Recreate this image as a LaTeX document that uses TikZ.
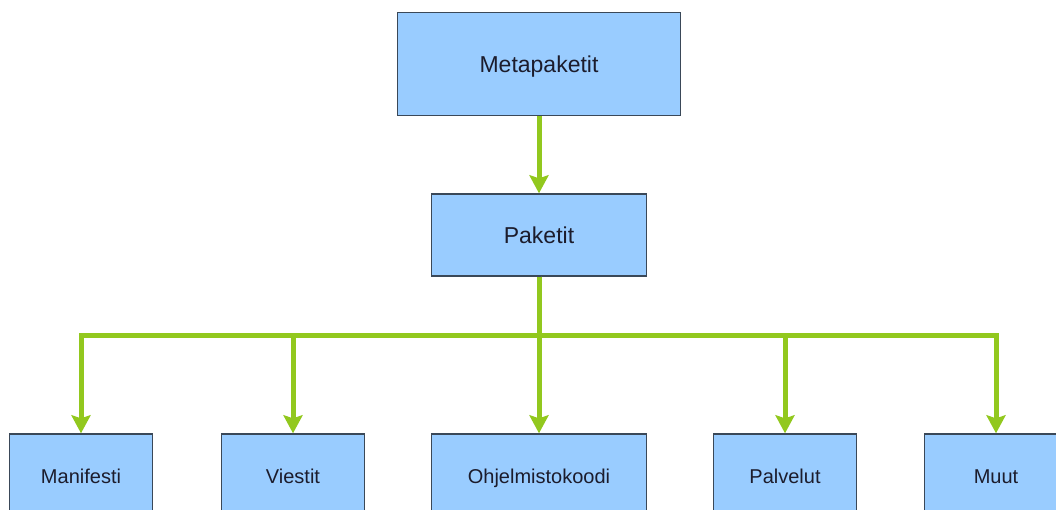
\documentclass[tikz,border=0pt]{standalone}
\usepackage{fontspec}
\setmainfont{Liberation Sans}
\usetikzlibrary{arrows.meta}
\definecolor{boxfill}{HTML}{99CCFF}
\definecolor{boxline}{HTML}{3A4858}
\definecolor{conn}{HTML}{92C81E}
\definecolor{txt}{HTML}{1C1C2C}
\tikzset{
  box/.style={draw=boxline, line width=1.4pt, fill=boxfill, inner sep=0pt, text=txt, anchor=center, text depth=0pt},
  bigbox/.style={box, text height=18pt, font=\fontsize{23}{27}\selectfont},
  smallbox/.style={box, text height=16pt, minimum width=143pt, minimum height=82pt, font=\fontsize{20}{24}\selectfont},
  arr/.style={draw=conn, line width=5pt, line join=miter, -{Stealth[width=19pt,length=18pt,inset=3pt]}}
}
\begin{document}
\begin{tikzpicture}[x=1pt,y=-1pt]
\useasboundingbox (0,0) rectangle (1056,510);
\clip (0,0) rectangle (1056,510);
\node[bigbox, minimum width=283pt, minimum height=103pt] (meta) at (539,64) {Metapaketit};
\node[bigbox, minimum width=215pt, minimum height=82pt] (pak) at (539,235) {Paketit};
\node[smallbox] (man) at (81,475) {Manifesti};
\node[smallbox] (vie) at (293,475) {Viestit};
\node[smallbox, minimum width=215pt] (ohj) at (539,475) {Ohjelmistokoodi};
\node[smallbox] (pal) at (785,475) {Palvelut};
\node[smallbox] (muu) at (996,475) {Muut};
\coordinate (bus) at (539,335);
\draw[arr] (meta.south) -- (pak.north);
\draw[arr] (pak.south) -- (pak.south |- bus) -| (man.north);
\draw[arr] (pak.south) -- (pak.south |- bus) -| (vie.north);
\draw[arr] (pak.south) -- (ohj.north);
\draw[arr] (pak.south) -- (pak.south |- bus) -| (pal.north);
\draw[arr] (pak.south) -- (pak.south |- bus) -| (muu.north);
\end{tikzpicture}
\end{document}
